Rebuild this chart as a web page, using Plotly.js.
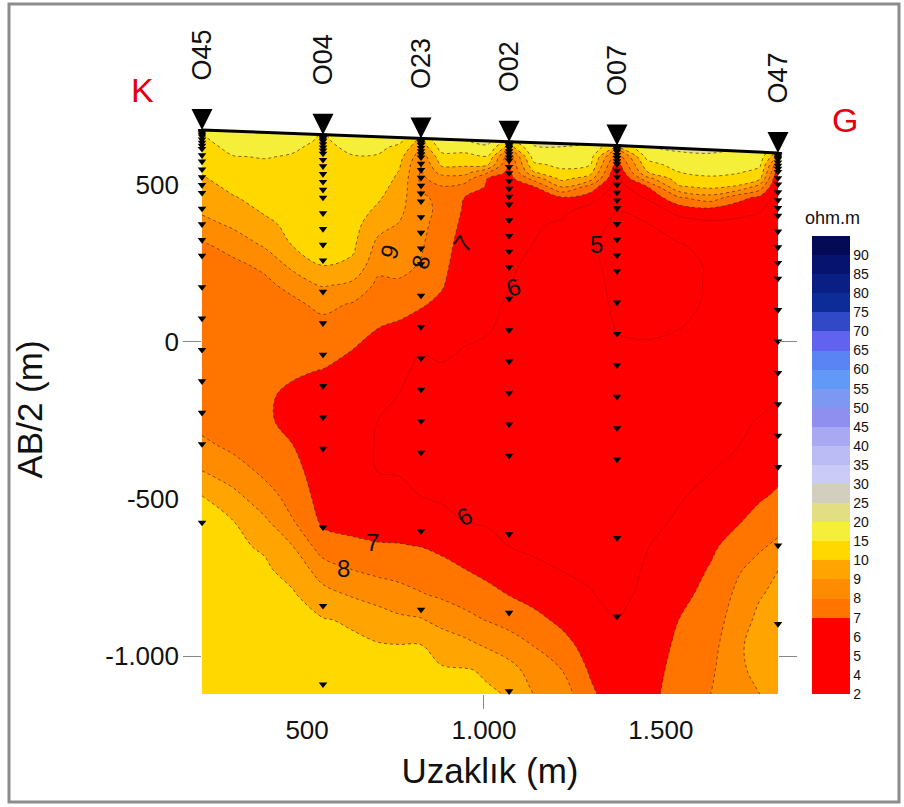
<!DOCTYPE html>
<html><head><meta charset="utf-8">
<script src="https://cdn.plot.ly/plotly-3.0.1.min.js"></script>
<style>html,body{margin:0;padding:0;background:#fff;}#chart{width:904px;height:807px;}</style>
</head><body><div id="chart"></div>
<script>
// ---- stations (VES soundings) ----
const stationNames = ['O45','O04','O23','O02','O07','O47'];
const stationDistance = [203, 545, 822, 1071, 1376, 1831];
const stationElevation = [675, 660, 648, 638, 626, 602];
const stationMaxAB = [1250, 1750, 1500, 1750, 1750, 1500];
const abHalf = [3,6,10,15,20,30,40,50,60,80,100,125,150,175,200,250,300,350,400,500,600,700,800,900,1000,1250,1500,1750];

// ---- resistivity section (ohm.m), read column by column ----
const gridDistance = [203,290,380,460,545,630,700,760,822,880,945,1010,1071,1140,1220,1300,1376,1460,1550,1640,1720,1780,1831];
const gridElevation = [710,650,620,590,565,540,520,495,460,420,375,310,245,180,120,55,-10,-90,-170,-250,-330,-410,-490,-570,-650,-725,-805,-885,-965,-1045,-1140];
const rhoColumns = [
 [17,14.4,13.2,12.1,11.2,10.3,9.9,9.7,9.5,9.2,8.6,7.9,7.7,7.5,7.4,7.3,7.3,7.4,7.4,7.7,8.2,9.0,10.0,10.5,10.9,11.4,11.9,12,12,12,12],
 [20,17.9,16.3,14.8,13.8,12.8,12.0,11.05,9.93,9.59,9.21,8.29,7.82,7.57,7.39,7.35,7.31,7.26,7.21,7.47,7.81,8.4,9.3,10.1,10.8,11.6,12.3,12.5,12.5,12.5,12.5],
 [20.5,18.1,16.6,15.2,14.4,13.8,13.3,12.6,11.7,10.6,9.78,9.16,8.17,7.8,7.59,7.36,7.25,7.17,7.1,7.18,7.5,7.81,8.34,9.17,9.89,10.7,11.6,12.5,12.6,12.8,13],
 [19.5,17.1,15.5,14.7,14.3,13.9,13.6,13.2,12.6,12.0,11.3,10.3,9.32,8.25,7.8,7.51,7.27,7.1,6.86,6.67,7.01,7.34,7.68,8.04,9.0,9.66,10.5,11.4,12.3,12.7,13],
 [15,14.4,14.0,13.7,13.4,13.0,12.8,12.5,12.1,11.7,11.3,10.7,10.1,9.09,8.25,7.75,7.4,6.98,6.68,6.4,6.4,6.4,6.56,6.81,7.46,8.51,9.34,10.3,11.4,12.1,12.5],
 [20,17.6,15.9,14.8,14.4,14.1,13.8,13.4,12.9,12.4,11.7,10.8,9.83,8.73,7.91,7.49,7.06,6.7,6.36,6.24,6.16,6.21,6.29,6.67,7.2,7.99,8.89,9.88,10.8,11.6,12],
 [20,17.8,16.1,14.6,13.9,13.1,12.5,11.8,10.7,9.83,9.36,8.76,8.25,7.8,7.45,7.06,6.74,6.35,6.12,6.0,5.97,5.99,6.08,6.54,7.09,7.76,8.58,9.52,10.3,11,11.5],
 [19.5,17,13.9,12,10.8,9.95,9.83,9.68,9.47,9.23,8.96,8.61,8.26,7.86,7.38,6.9,6.56,6.21,5.99,5.87,5.83,5.94,6.21,6.62,7.05,7.64,8.35,9.2,10.1,10.8,11.5],
 [11.5,10,9.25,8.33,7.95,7.88,7.81,7.91,8.09,8.3,8.22,8.1,7.94,7.5,7.1,6.61,6.1,5.8,5.94,5.8,5.8,5.81,5.99,6.48,6.98,7.49,8.07,9.08,10.05,10.5,11],
 [22,20.2,17.2,13.3,10.9,9.37,8.47,7.96,7.87,7.77,7.65,7.46,7.28,7.09,6.78,6.35,6.15,5.93,5.73,5.7,5.7,5.7,5.87,6.27,6.79,7.3,7.86,8.65,9.68,10.4,11],
 [22,21,17.4,13.3,10.9,9.37,8.47,7.69,6.99,6.88,6.74,6.55,6.44,6.36,6.27,6.15,6.01,5.8,5.74,5.69,5.61,5.72,5.86,6.0,6.52,7.02,7.6,8.29,9.3,10.3,11],
 [23,22,19.2,14.7,10.7,8.08,6.98,6.9,6.8,6.68,6.55,6.44,6.36,6.27,6.18,6.08,5.93,5.77,5.68,5.6,5.51,5.62,5.77,5.92,6.23,6.72,7.3,7.95,8.85,9.91,10.6],
 [15,14,9.54,7.33,6.88,6.74,6.62,6.53,6.42,6.3,6.19,6.13,6.07,6.01,5.92,5.83,5.76,5.7,5.64,5.57,5.51,5.61,5.74,5.87,5.99,6.46,6.98,7.66,8.46,9.38,10.2],
 [22,21.5,19.6,16.9,14.1,9.9,8.33,6.95,6.6,6.2,6.11,5.99,5.9,5.92,5.94,5.93,5.85,5.74,5.62,5.58,5.55,5.53,5.5,5.67,5.87,6.16,6.68,7.28,7.97,8.59,9.1],
 [22.5,21.5,19.9,17.7,16.1,14,11.4,9.08,6.92,6.26,5.88,5.61,5.41,5.44,5.46,5.49,5.49,5.47,5.45,5.42,5.4,5.5,5.62,5.75,5.87,5.98,6.37,6.79,7.34,8,8.6],
 [21.5,20.5,19.4,17.2,15.3,11.8,9.46,7.68,6.47,5.6,5.38,5.05,5.1,5.16,5.2,5.22,5.25,5.27,5.3,5.32,5.35,5.37,5.4,5.54,5.71,5.86,6.05,6.33,6.61,6.89,7.3],
 [13,12.5,9.78,7.33,6.53,5.98,5.72,5.54,5.3,5.02,4.81,4.83,4.86,4.88,4.91,4.97,5.04,5.11,5.19,5.24,5.29,5.34,5.39,5.48,5.58,5.68,5.78,6.03,6.16,6.28,6.43],
 [21.5,20.5,19.7,16.2,13.1,9.92,8.58,6.95,6.1,5.36,4.96,4.8,4.8,4.8,4.82,4.92,5.03,5.15,5.28,5.36,5.44,5.51,5.59,5.77,5.97,6.08,6.19,6.29,6.4,6.5,6.62],
 [22,21.5,21,18.8,16.9,14.9,12.6,9.9,7.88,6.37,5.49,4.94,4.85,4.85,4.9,4.98,5.06,5.2,5.37,5.51,5.65,5.79,5.92,6.1,6.33,6.54,6.77,7.0,7.19,7.38,7.6],
 [22,21.5,21.2,19.3,17.7,16,14.3,11.3,8.6,6.67,5.75,5.25,5.05,5.05,5.05,5.08,5.15,5.34,5.56,5.71,5.84,5.97,6.24,6.54,6.83,7.07,7.26,7.45,7.63,7.82,8.04],
 [21,20.5,20.2,18.6,17,15.3,13,9.88,7.35,6.37,5.71,5.31,5.12,5.12,5.12,5.12,5.2,5.46,5.75,5.89,5.99,6.3,6.61,6.93,7.4,7.91,8.25,8.54,8.84,8.86,8.8],
 [20,19.5,19.2,17.6,15.8,13.2,10.5,8.6,6.75,6.07,5.66,5.34,5.15,5.16,5.18,5.2,5.34,5.57,5.8,6.04,6.32,6.6,6.89,7.33,7.87,8.38,8.93,9.26,9.45,9.22,8.95],
 [13,12.5,12.2,8.99,7.23,6.45,5.91,5.74,5.65,5.54,5.42,5.25,5.24,5.29,5.34,5.39,5.53,5.74,5.96,6.23,6.51,6.79,7.12,7.62,8.2,8.99,9.25,9.5,9.67,9.53,9.4]
];

// ---- colour classes ----
const levels = [2,4,5,6,7,8,9,10,15,20,25,30,35,40,45,50,55,60,65,70,75,80,85,90];
const levelLabels = levels.map(String);
const bandColors = ['#ff0000','#ff0000','#ff0000','#ff0000','#ff7500','#ff8c00','#ffa400','#ffd800',
  '#f6ef3a','#e2df82','#d2cfbf','#cbcbf7','#bbbbf6','#a8a8f3','#8f8ff0','#7c98f2','#6199f6','#5a84f4',
  '#6262f0','#3149c6','#0c2c98','#0a1f84','#061470','#040a55'];
const profileEnds = {left: 'K', right: 'G'};
const xTickVals = [500, 1000, 1500], xTickText = ['500', '1.000', '1.500'];
const yTickVals = [500, 0, -500, -1000], yTickText = ['500', '0', '-500', '-1.000'];
const contourLabels = [
  {t:'9', x:734, y:287, a:-70}, {t:'8', x:822, y:252, a:-75}, {t:'7', x:938, y:312, a:-55},
  {t:'5', x:1319, y:309, a:0}, {t:'6', x:1082, y:172, a:-20}, {t:'6', x:946, y:-557, a:-30},
  {t:'7', x:684, y:-637, a:0}, {t:'8', x:602, y:-720, a:0}
];

// ---- build ----
function toIdx(v){
  for (let i = 0; i < levels.length - 1; i++) {
    if (v < levels[i+1]) return i + (v - levels[i]) / (levels[i+1] - levels[i]);
  }
  return levels.length - 1 + (v - levels[levels.length-1]) / 5;
}
const nRows = gridElevation.length;
const yAsc = gridElevation.slice().reverse();
const zRows = [];
for (let r = nRows - 1; r >= 0; r--) zRows.push(rhoColumns.map(col => toIdx(col[r])));

const FONT = 'Liberation Sans, Arial, Helvetica, sans-serif';
const xRange = [203, 1831], yRange = [-1121, 691];

const contourScale = bandColors.map((c, k) => [k / (bandColors.length - 1), c]);
const stepScale = [];
bandColors.forEach((c, k) => { stepScale.push([k / bandColors.length, c]); stepScale.push([(k + 1) / bandColors.length, c]); });

const ptsX = [], ptsY = [];
stationDistance.forEach((sx, i) => {
  abHalf.forEach(ab => { if (ab <= stationMaxAB[i]) { ptsX.push(sx); ptsY.push(stationElevation[i] - ab); } });
});

const traces = [
  {type:'contour', x: gridDistance, y: yAsc, z: zRows, showscale:false, hoverinfo:'skip',
   colorscale: contourScale, autocontour:false,
   contours:{start:1, end:23, size:1, coloring:'fill', showlines:false},
   line:{width:0, smoothing:1}},
  {type:'contour', x: gridDistance, y: yAsc, z: zRows, showscale:false, hoverinfo:'skip', autocontour:false,
   contours:{start:1, end:3, size:1, coloring:'none'},
   line:{color:'rgba(110,0,0,0.42)', width:0.7, smoothing:1}},
  {type:'contour', x: gridDistance, y: yAsc, z: zRows, showscale:false, hoverinfo:'skip', autocontour:false,
   contours:{start:4, end:23, size:1, coloring:'none'},
   line:{color:'rgba(70,35,0,0.75)', width:0.9, dash:'dot', smoothing:1}},
  {type:'scatter', mode:'lines', x: stationDistance.concat([xRange[1], xRange[0]]),
   y: stationElevation.concat([1200, 1200]), fill:'toself', fillcolor:'#ffffff',
   line:{width:0}, hoverinfo:'skip', showlegend:false},
  {type:'scatter', mode:'lines', x: stationDistance, y: stationElevation,
   line:{color:'#000', width:3}, hoverinfo:'skip', showlegend:false, cliponaxis:false},
  {type:'scatter', mode:'markers', x: ptsX, y: ptsY, cliponaxis:false,
   marker:{symbol:'triangle-down', size:7.5, color:'#000'}, hoverinfo:'skip', showlegend:false},
  {type:'scatter', mode:'markers', x: stationDistance, y: stationElevation, cliponaxis:false,
   marker:{symbol:'arrow-down', size:21, color:'#000', line:{width:0}}, hoverinfo:'skip', showlegend:false},
  {type:'scatter', mode:'markers', x:[null], y:[null], xaxis:'x2', yaxis:'y2', hoverinfo:'skip', showlegend:false,
   marker:{color:[0], cmin:0, cmax:24, colorscale: stepScale, showscale:true,
     colorbar:{x:(812-202)/576, xanchor:'left', xpad:0, ypad:0, y:0, yanchor:'bottom',
       len:458, lenmode:'pixels', thickness:38, outlinewidth:0,
       tickmode:'array', tickvals: levels.map((v,i)=>i), ticktext: levelLabels, ticks:'',
       tickfont:{family:FONT, size:14, color:'#111'}}}}
];

const annotations = [];
stationNames.forEach((n, i) => annotations.push({x: stationDistance[i], y: stationElevation[i], xref:'x', yref:'y',
  text:n, textangle:-90, showarrow:false, yanchor:'bottom', xanchor:'center', yshift:47,
  font:{family:FONT, size:27, color:'#111'}}));
annotations.push({xref:'paper', yref:'paper', x:(142-202)/576, y:(694-90)/569, xanchor:'center', yanchor:'middle',
  text:profileEnds.left, showarrow:false, font:{family:FONT, size:34, color:'#e3000f'}});
annotations.push({xref:'paper', yref:'paper', x:(845-202)/576, y:(694-120)/569, xanchor:'center', yanchor:'middle',
  text:profileEnds.right, showarrow:false, font:{family:FONT, size:34, color:'#e3000f'}});
annotations.push({xref:'paper', yref:'paper', x:(832-202)/576, y:(694-218)/569, xanchor:'center', yanchor:'middle',
  text:'ohm.m', showarrow:false, font:{family:FONT, size:18, color:'#111'}});
contourLabels.forEach(c => annotations.push({x:c.x, y:c.y, xref:'x', yref:'y', text:c.t, textangle:c.a, showarrow:false,
  xanchor:'center', yanchor:'middle', font:{family:FONT, size:24, color:'#111'}}));

const layout = {
  width:904, height:807, margin:{l:202, r:126, t:125, b:113},
  paper_bgcolor:'#fff', plot_bgcolor:'#fff', showlegend:false,
  font:{family:FONT, color:'#111'},
  xaxis:{range:xRange, tickmode:'array', tickvals:xTickVals, ticktext:xTickText, ticks:'',
    showgrid:false, zeroline:false, showline:false, tickfont:{size:26, color:'#111'}, ticklabelstandoff:18,
    title:{text:'Uzaklık (m)', font:{size:35, color:'#111'}, standoff:14}},
  yaxis:{range:yRange, tickmode:'array', tickvals:yTickVals, ticktext:yTickText, ticks:'',
    showgrid:false, zeroline:false, showline:false, tickfont:{size:26, color:'#111'}, ticklabelstandoff:22,
    title:{text:'AB/2 (m)', font:{size:35, color:'#111'}, standoff:52}},
  xaxis2:{overlaying:'x', range:xRange, tickmode:'array', tickvals:[1000], ticks:'outside', ticklen:14,
    tickcolor:'#888', showticklabels:false, showgrid:false, zeroline:false, showline:false},
  yaxis2:{overlaying:'y', range:yRange, tickmode:'array', tickvals:[0, -1000], ticks:'outside', ticklen:18,
    tickcolor:'#888', mirror:'ticks', showticklabels:false, showgrid:false, zeroline:false, showline:false},
  annotations: annotations,
  shapes:[{type:'rect', xref:'paper', yref:'paper', x0:(9-202)/576, x1:(899-202)/576, y0:(694-802)/569, y1:(694-4)/569,
    line:{color:'#8c8c8c', width:3}, fillcolor:'rgba(0,0,0,0)', layer:'above'}]
};
Plotly.newPlot('chart', traces, layout, {staticPlot:true, displayModeBar:false});
</script></body></html>
